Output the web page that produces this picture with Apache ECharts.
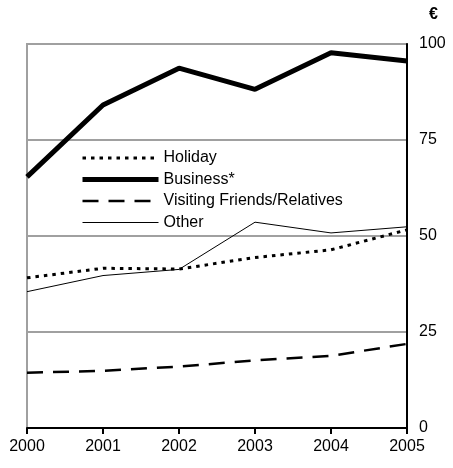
<!DOCTYPE html>
<html><head><meta charset="utf-8">
<script src="https://cdn.jsdelivr.net/npm/echarts@6/dist/echarts.min.js"></script>
<style>html,body{margin:0;padding:0;background:#fff}#c{width:453px;height:468px}</style>
</head><body><div id="c"></div>
<script>
const years = ['2000','2001','2002','2003','2004','2005'];
const holiday = [39.1, 41.6, 41.4, 44.4, 46.4, 51.6];
const business = [65.4, 84.1, 93.7, 88.2, 97.7, 95.6];
const vfr = [14.4, 14.9, 16.0, 17.6, 18.8, 21.9];
const other = [35.5, 39.7, 41.3, 53.6, 50.8, 52.4];
const yTicks = [0, 25, 50, 75, 100];

const font = 'Liberation Sans, Arial, sans-serif';
const chart = echarts.init(document.getElementById('c'), null, {renderer: 'canvas'});
function line(name, data, width, type) {
  return {name, type: 'line', data, symbol: 'none', showSymbol: false, smooth: false,
    lineStyle: {color: '#000', width, type}, itemStyle: {color: '#000'}, z: 3};
}
function leg(name) { return {name, itemStyle: {opacity: 0}}; }
chart.setOption({
  animation: false,
  title: {text: '€', left: 424, top: 2, textStyle: {fontFamily: font, fontSize: 16, fontWeight: 'bold', color: '#000'}},
  grid: {left: 27, right: 46, top: 44, bottom: 40, show: true, borderColor: '#a0a0a0', borderWidth: 2},
  legend: {
    orient: 'vertical', left: 75, top: 145, itemWidth: 76, itemHeight: 18, itemGap: 5.5,
    lineStyle: {width: 'inherit', type: 'inherit'},
    textStyle: {fontFamily: font, fontSize: 16, color: '#000'},
    data: [leg('Holiday'), leg('Business*'), leg('Visiting Friends/Relatives'), leg('Other')]
  },
  xAxis: {
    type: 'category', data: years, boundaryGap: false,
    axisLine: {lineStyle: {color: '#000', width: 2}},
    axisTick: {show: true, length: 6, lineStyle: {color: '#000', width: 2}},
    axisLabel: {fontFamily: font, fontSize: 16, color: '#000', margin: 11}
  },
  yAxis: {
    type: 'value', position: 'right', min: 0, max: 100, interval: 25,
    axisLine: {show: true, lineStyle: {color: '#000', width: 2}},
    axisTick: {show: false},
    axisLabel: {fontFamily: font, fontSize: 16, color: '#000', margin: 12,
      formatter: v => yTicks.includes(v) ? String(v) : ''},
    splitLine: {show: true, lineStyle: {color: '#a0a0a0', width: 2}}
  },
  series: [
    line('Holiday', holiday, 3, [3.5, 5]),
    line('Business*', business, 5, 'solid'),
    line('Visiting Friends/Relatives', vfr, 2.5, [16, 10]),
    line('Other', other, 1, 'solid')
  ]
});
</script></body></html>
